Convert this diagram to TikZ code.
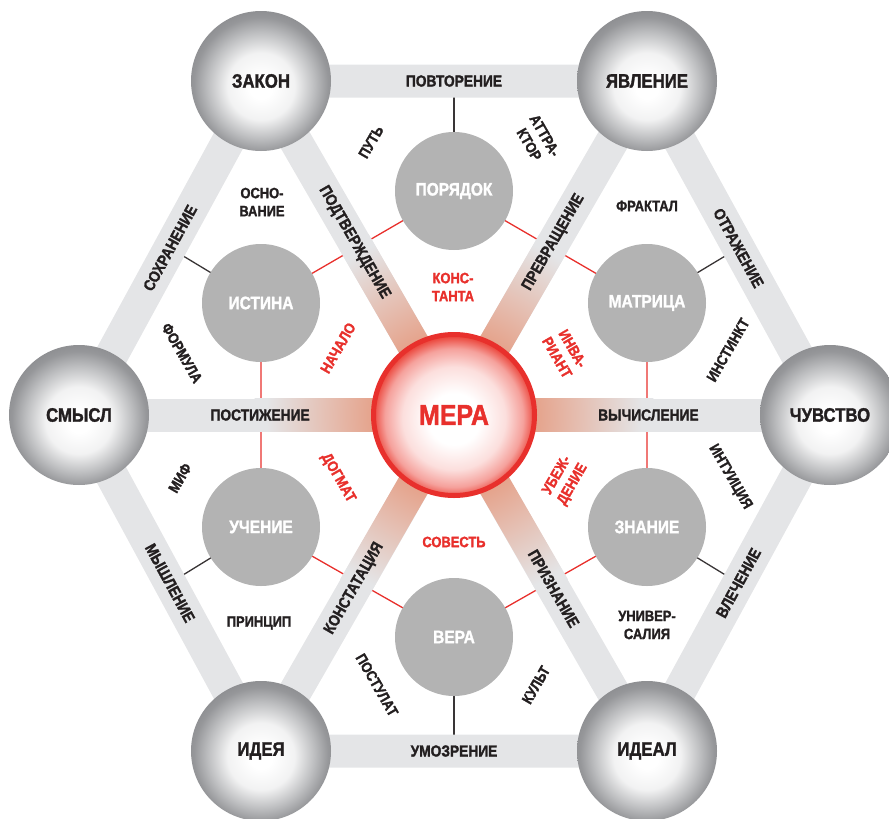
\documentclass[tikz,border=0pt]{standalone}
\usepackage{fontspec}
\setmainfont{Liberation Sans}[FakeStretch=0.86,BoldFeatures={FakeBold=1.5}]
\usetikzlibrary{calc,positioning}
\definecolor{Ink}{HTML}{231F20}
\definecolor{Band}{HTML}{E4E5E7}
\definecolor{Salmon}{HTML}{E5A48D}
\definecolor{Disc}{HTML}{B3B3B3}
\definecolor{Crimson}{HTML}{E8302C}
\definecolor{RimGray}{HTML}{8C8D90}
\definecolor{MidGray}{HTML}{BDBEC0}
\definecolor{RimRed}{HTML}{EC4A40}
\pgfdeclareradialshading{sphere}{\pgfpoint{0bp}{-2.5bp}}{color(0bp)=(white); color(4bp)=(white); color(12bp)=(white!80!MidGray); color(19bp)=(MidGray); color(24bp)=(RimGray!80!MidGray); color(27bp)=(RimGray); color(50bp)=(RimGray)}
\pgfdeclareradialshading{meraglow}{\pgfpoint{0bp}{-1.5bp}}{color(0bp)=(white); color(8bp)=(white); color(16bp)=(RimRed!18!white); color(21.5bp)=(RimRed!52!white); color(25bp)=(RimRed); color(50bp)=(RimRed)}
\pgfdeclareradialshading{halo}{\pgfpointorigin}{color(0bp)=(Salmon); color(10.4bp)=(Salmon); color(23.5bp)=(Band); color(50bp)=(Band)}
\pgfdeclarelayer{wires}
\pgfdeclarelayer{bands}
\pgfsetlayers{wires,bands,main}

\begin{document}
\begin{tikzpicture}[x=1pt,y=-1pt,
  sphere/.style={circle,minimum size=140pt,inner sep=0pt,shade,shading=sphere,text=Ink,font=\fontsize{19.5}{22}\selectfont\bfseries},
  disc/.style={circle,minimum size=118pt,inner sep=0pt,fill=Disc,text=white,font=\fontsize{18}{20}\selectfont\bfseries},
  hub/.style={circle,minimum size=161pt,inner sep=0pt,shade,shading=meraglow,draw=Crimson,line width=5pt,text=Crimson,font=\fontsize{29}{32}\selectfont\bfseries},
  band/.style={draw=Band,line width=33pt},
  bandtext/.style={text=Ink,font=\fontsize{16}{18}\selectfont\bfseries,sloped,inner sep=0pt},
  note/.style={text=Ink,font=\fontsize{15}{18}\selectfont\bfseries,align=center,inner sep=0pt},
  rednote/.style={note,text=Crimson},
  wire/.style={draw=Ink!90,line width=1.3pt},
  redwire/.style={draw=Crimson,line width=1.3pt}
]
\useasboundingbox (0,0) rectangle (889,819);

% centre and outer ring
\node[hub] (mera) at (454,415) {МЕРА};
\node[sphere] (zakon) at (261,81) {ЗАКОН};
\node[sphere] (yavl) at (647,81) {ЯВЛЕНИЕ};
\node[sphere] (chuv) at (830,415) {ЧУВСТВО};
\node[sphere] (ideal) at (647,751) {ИДЕАЛ};
\node[sphere] (ideya) at (261,751) {ИДЕЯ};
\node[sphere] (smysl) at (79,415) {СМЫСЛ};

% inner ring
\node[disc] (poryadok) at (454,191) {ПОРЯДОК};
\node[disc] (matrica) at (647,303) {МАТРИЦА};
\node[disc] (znanie) at (647,527) {ЗНАНИЕ};
\node[disc] (vera) at (454,637) {ВЕРА};
\node[disc] (uchenie) at (261,527) {УЧЕНИЕ};
\node[disc] (istina) at (261,303) {ИСТИНА};

\coordinate (mTop) at ($(zakon)!0.5!(yavl)$);
\coordinate (mUR) at ($(yavl)!0.5!(chuv)$);
\coordinate (mLR) at ($(chuv)!0.5!(ideal)$);
\coordinate (mBot) at ($(ideal)!0.5!(ideya)$);
\coordinate (mLL) at ($(ideya)!0.5!(smysl)$);
\coordinate (mUL) at ($(smysl)!0.5!(zakon)$);

\begin{pgfonlayer}{wires}
\draw[redwire] (istina.center) -- (poryadok.center) -- (matrica.center) -- (znanie.center) -- (vera.center) -- (uchenie.center) -- cycle;
\draw[wire] (poryadok.center) -- (mTop);
\draw[wire] (matrica.center) -- (mUR);
\draw[wire] (znanie.center) -- (mLR);
\draw[wire] (vera.center) -- (mBot);
\draw[wire] (uchenie.center) -- (mLL);
\draw[wire] (istina.center) -- (mUL);
\end{pgfonlayer}

\begin{pgfonlayer}{bands}
\draw[band] (zakon.center) -- (yavl.center) -- (chuv.center) -- (ideal.center) -- (ideya.center) -- (smysl.center) -- cycle;
\foreach \o/\a in {zakon/120,yavl/60,chuv/0,ideal/-60,ideya/-120,smysl/180}{
  \draw[band] (mera.center) -- (\o.center);
  \begin{scope}
    \clip[shift={(mera.center)},rotate=\a] (0,-16.5) rectangle (200,16.5);
    \shade[shading=halo] (mera.center) circle (200);
  \end{scope}
}
\end{pgfonlayer}

% band labels
\path (zakon.center) -- node[bandtext] (povtorenie) {ПОВТОРЕНИЕ} (yavl.center);
\path (yavl.center) -- node[bandtext] (otrazhenie) {ОТРАЖЕНИЕ} (chuv.center);
\path (ideal.center) -- node[bandtext] (vlechenie) {ВЛЕЧЕНИЕ} (chuv.center);
\path (ideya.center) -- node[bandtext] (umozrenie) {УМОЗРЕНИЕ} (ideal.center);
\path (smysl.center) -- node[bandtext] (myshlenie) {МЫШЛЕНИЕ} (ideya.center);
\path (smysl.center) -- node[bandtext] (sohranenie) {СОХРАНЕНИЕ} (zakon.center);
\path (zakon) -- node[bandtext] (podtverzhdenie) {ПОДТВЕРЖДЕНИЕ} (mera);
\path (mera) -- node[bandtext] (prevrashchenie) {ПРЕВРАЩЕНИЕ} (yavl);
\path (mera) -- node[bandtext] (vychislenie) {ВЫЧИСЛЕНИЕ} (chuv);
\path (mera) -- node[bandtext] (priznanie) {ПРИЗНАНИЕ} (ideal);
\path (ideya) -- node[bandtext] (konstataciya) {КОНСТАТАЦИЯ} (mera);
\path (smysl) -- node[bandtext] (postizhenie) {ПОСТИЖЕНИЕ} (mera);

% sector words
\node[note,rotate=60] (put) at (371,142) {ПУТЬ};
\node[note,rotate=-60] (attraktor) at (537,140) {АТТРА-\\КТОР};
\node[note] (osnovanie) at (262,202) {ОСНО-\\ВАНИЕ};
\node[note] (fraktal) at (647,206) {ФРАКТАЛ};
\node[note,rotate=-60] (formula) at (182,353) {ФОРМУЛА};
\node[rednote,rotate=60] (nachalo) at (338,348) {НАЧАЛО};
\node[rednote] (konstanta) at (453,287) {КОНС-\\ТАНТА};
\node[rednote,rotate=-60] (invariant) at (565,353) {ИНВА-\\РИАНТ};
\node[note,rotate=60] (instinkt) at (728,350) {ИНСТИНКТ};
\node[note,rotate=60] (mif) at (180,478) {МИФ};
\node[rednote,rotate=-60] (dogmat) at (338,478) {ДОГМАТ};
\node[rednote,rotate=60] (ubezhdenie) at (565,480) {УБЕЖ-\\ДЕНИЕ};
\node[note,rotate=-60] (intuiciya) at (730,477) {ИНТУИЦИЯ};
\node[rednote] (sovest) at (454,542) {СОВЕСТЬ};
\node[note] (princip) at (259,623) {ПРИНЦИП};
\node[note] (universaliya) at (647,625) {УНИВЕР-\\САЛИЯ};
\node[note,rotate=-60] (postulat) at (377,685) {ПОСТУЛАТ};
\node[note,rotate=60] (kult) at (536,685) {КУЛЬТ};
\end{tikzpicture}
\end{document}
